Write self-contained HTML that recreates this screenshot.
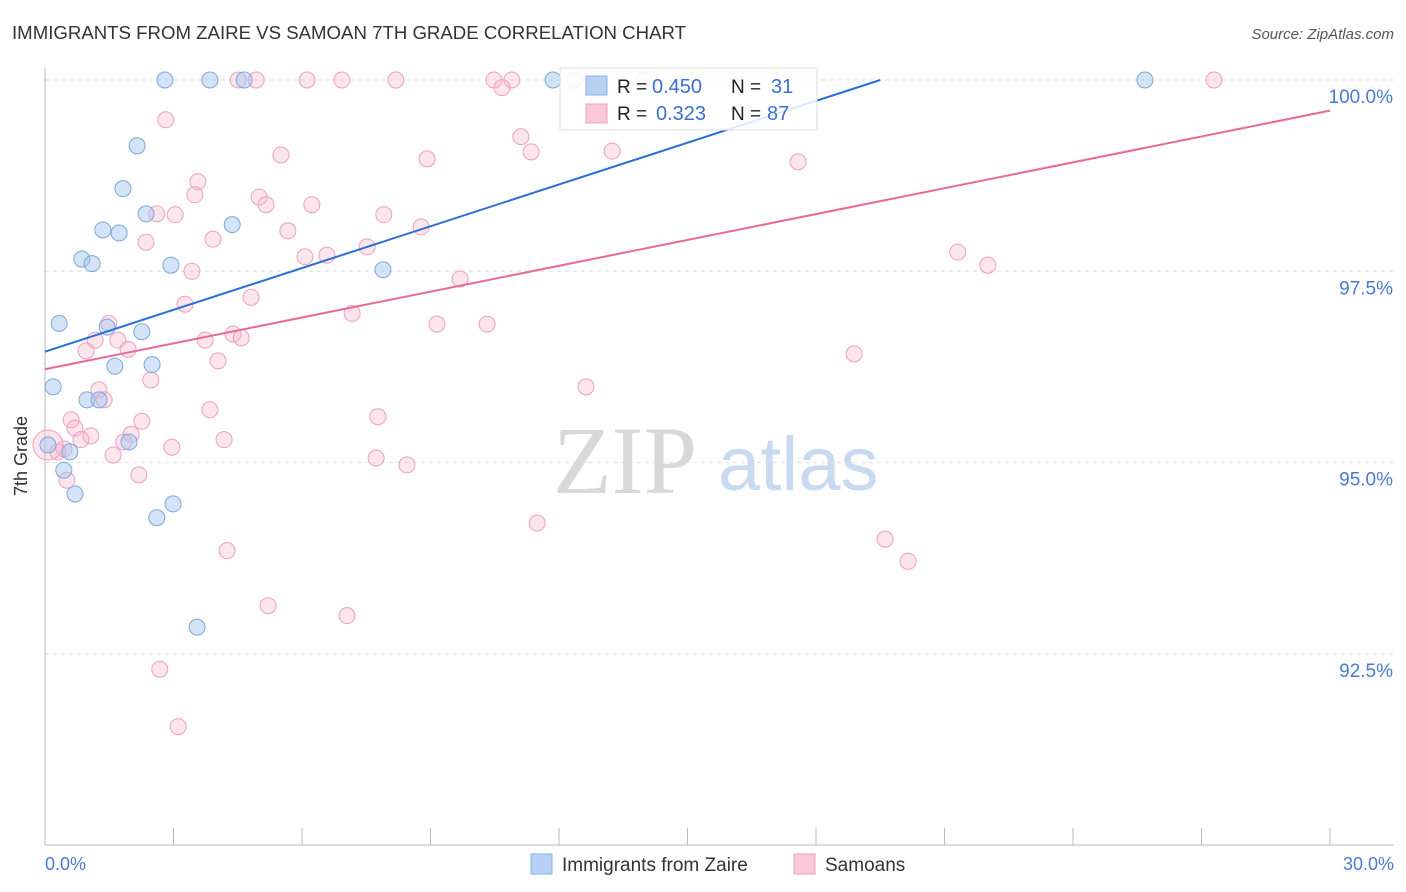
<!DOCTYPE html>
<html><head><meta charset="utf-8"><style>
body{margin:0;background:#fff;font-family:"Liberation Sans",sans-serif;}
svg{display:block}
</style></head><body>
<svg id="chart" width="1406" height="892" viewBox="0 0 1406 892">
<text x="12" y="39" font-size="18" fill="#333" textLength="674" lengthAdjust="spacingAndGlyphs">IMMIGRANTS FROM ZAIRE VS SAMOAN 7TH GRADE CORRELATION CHART</text>
<text x="1394" y="39" font-size="15" fill="#555" font-style="italic" text-anchor="end">Source: ZipAtlas.com</text>
<g>
<text x="553" y="493" font-size="96" fill="#d8d8d8" font-family="Liberation Serif,serif">ZIP</text>
<text x="718" y="490" font-size="76" fill="#c8daf0">atlas</text>
</g>
<g id="grid"></g>
<g id="axes"></g>
<g id="points"></g>
<g id="lines"></g>
<text x="27" y="456" font-size="18" fill="#333" text-anchor="middle" transform="rotate(-90 27 456)">7th Grade</text>
<g>
<rect x="560" y="68" width="257" height="62" fill="rgba(255,255,255,0.85)" stroke="#ddd"/>
<rect x="586" y="76" width="21" height="19" fill="#b8d0f4" stroke="#8ab0e0"/>
<rect x="586" y="104" width="21" height="19" fill="#fac8d8" stroke="#f0a0bc"/>
<text x="617" y="93" font-size="19" fill="#222">R = </text><text x="652" y="93" font-size="20" fill="#3b6fd0">0.450</text>
<text x="731" y="93" font-size="19" fill="#222">N = </text><text x="771" y="93" font-size="20" fill="#3b6fd0">31</text>
<text x="617" y="120" font-size="19" fill="#222">R = </text><text x="656" y="120" font-size="20" fill="#3b6fd0">0.323</text>
<text x="731" y="120" font-size="19" fill="#222">N = </text><text x="767" y="120" font-size="20" fill="#3b6fd0">87</text>
</g>
<g>
<rect x="531" y="854" width="21" height="20" fill="#b8d0f4" stroke="#8ab0e0"/>
<text x="562" y="871" font-size="19" fill="#333">Immigrants from Zaire</text>
<rect x="794" y="854" width="21" height="20" fill="#fac8d8" stroke="#f0a0bc"/>
<text x="825" y="871" font-size="19" fill="#333">Samoans</text>
</g>
</svg>
<script>
const yTicks=[100,97.5,95,92.5];
const yTickLabels=["100.0%","97.5%","95.0%","92.5%"];
const xTickLabels=["0.0%","30.0%"];
const zaireX=[2.80,3.85,4.65,11.86,25.68,2.15,1.82,2.36,1.35,1.73,4.37,0.86,1.10,2.94,7.89,0.33,1.45,2.26,1.63,2.50,0.19,0.98,1.26,1.96,0.58,0.44,0.70,2.99,2.61,3.55,0.07];
const zaireY=[100,100,100,100,100,99.14,98.58,98.25,98.04,98.00,98.11,97.66,97.60,97.58,97.52,96.82,96.77,96.71,96.26,96.28,95.99,95.82,95.82,95.27,95.14,94.90,94.59,94.46,94.28,92.85,95.23];
const samoanX=[4.51,4.93,6.12,6.93,8.19,10.48,10.90,12.35,13.98,27.29,10.67,2.82,11.11,11.35,5.51,8.92,13.24,17.58,3.57,3.50,5.00,5.16,6.23,2.61,3.04,7.91,5.67,8.78,2.36,3.92,7.52,6.07,6.58,21.31,22.01,3.43,9.69,4.81,3.27,7.17,1.49,9.15,10.32,4.39,1.17,1.70,3.74,4.58,0.96,1.94,18.89,4.04,2.47,12.63,1.26,1.38,3.85,0.61,2.26,7.77,0.70,1.07,0.84,2.01,1.84,0.44,2.96,4.18,1.59,7.73,8.45,2.19,0.51,11.49,19.61,4.25,20.15,5.21,7.05,2.68,3.11,0.30,0.07];
const samoanY=[100,100,100,100,100,100,100,100,100,100,99.90,99.48,99.26,99.06,99.02,98.97,99.07,98.93,98.67,98.50,98.47,98.37,98.37,98.25,98.24,98.24,98.03,98.08,97.88,97.92,97.82,97.69,97.71,97.75,97.58,97.50,97.40,97.16,97.07,96.95,96.82,96.81,96.81,96.68,96.60,96.60,96.60,96.63,96.46,96.48,96.42,96.33,96.08,95.99,95.95,95.82,95.69,95.56,95.54,95.60,95.45,95.35,95.30,95.37,95.27,95.18,95.20,95.30,95.10,95.06,94.97,94.84,94.77,94.21,94.00,93.85,93.71,93.13,93.00,92.30,91.55,95.14,95.23];
const zaireTrend=[[0,96.45],[19.5,100]];
const samoanTrend=[[0,96.22],[30,99.60]];
const NS="http://www.w3.org/2000/svg";
const sx=v=>45+v/30*1285;
const sy=v=>80+(100-v)/2.5*191.3;
function mk(t,a,p){const e=document.createElementNS(NS,t);for(const k in a)e.setAttribute(k,a[k]);p.appendChild(e);return e;}
const grid=document.getElementById('grid'),axes=document.getElementById('axes'),pts=document.getElementById('points'),lines=document.getElementById('lines');
yTicks.forEach((t,i)=>{
 const l=mk('line',{x1:45,x2:1394,y1:sy(t),y2:sy(t),stroke:'#ddd','stroke-dasharray':'4,4'},grid);
 
 
 const tx=mk('text',{x:1393,y:sy(t)+23,'font-size':19,fill:'#4a7bd0','text-anchor':'end'},axes);
 tx.textContent=yTickLabels[i];
 
 
});
const ya=mk('line',{x1:45,x2:45,y1:68,y2:845,stroke:'#bbb'},axes);


const xa=mk('line',{x1:45,x2:1394,y1:845,y2:845,stroke:'#bbb'},axes);


for(let k=0;k<=10;k++){
 const t=mk('line',{x1:sx(k*3),x2:sx(k*3),y1:828,y2:845,stroke:'#bbb'},axes);
 
 
}
[[0,'start',45],[30,'end',1394]].forEach((d,i)=>{
 const t=mk('text',{x:d[2],y:870,'font-size':18,fill:'#4a7bd0','text-anchor':d[1]},axes);
 t.textContent=xTickLabels[i];
 
 
});
samoanX.forEach((x,i)=>{
 const big=(i===samoanX.length-1);
 const c=mk('circle',{cx:sx(x),cy:sy(samoanY[i]),r:big?15:8,fill:'rgba(248,180,205,0.35)',stroke:'#f0a0bc','stroke-width':1},pts);
 
 
});
zaireX.forEach((x,i)=>{
 const c=mk('circle',{cx:sx(x),cy:sy(zaireY[i]),r:8,fill:'rgba(160,195,240,0.45)',stroke:'#7fa6dc','stroke-width':1},pts);
 
 
});
const bl=mk('line',{x1:sx(zaireTrend[0][0]),y1:sy(zaireTrend[0][1]),x2:sx(zaireTrend[1][0]),y2:sy(zaireTrend[1][1]),stroke:'#2a6fd6','stroke-width':2},lines);


const pl=mk('line',{x1:sx(samoanTrend[0][0]),y1:sy(samoanTrend[0][1]),x2:sx(samoanTrend[1][0]),y2:sy(samoanTrend[1][1]),stroke:'#e8689a','stroke-width':2},lines);


</script>
</body></html>
